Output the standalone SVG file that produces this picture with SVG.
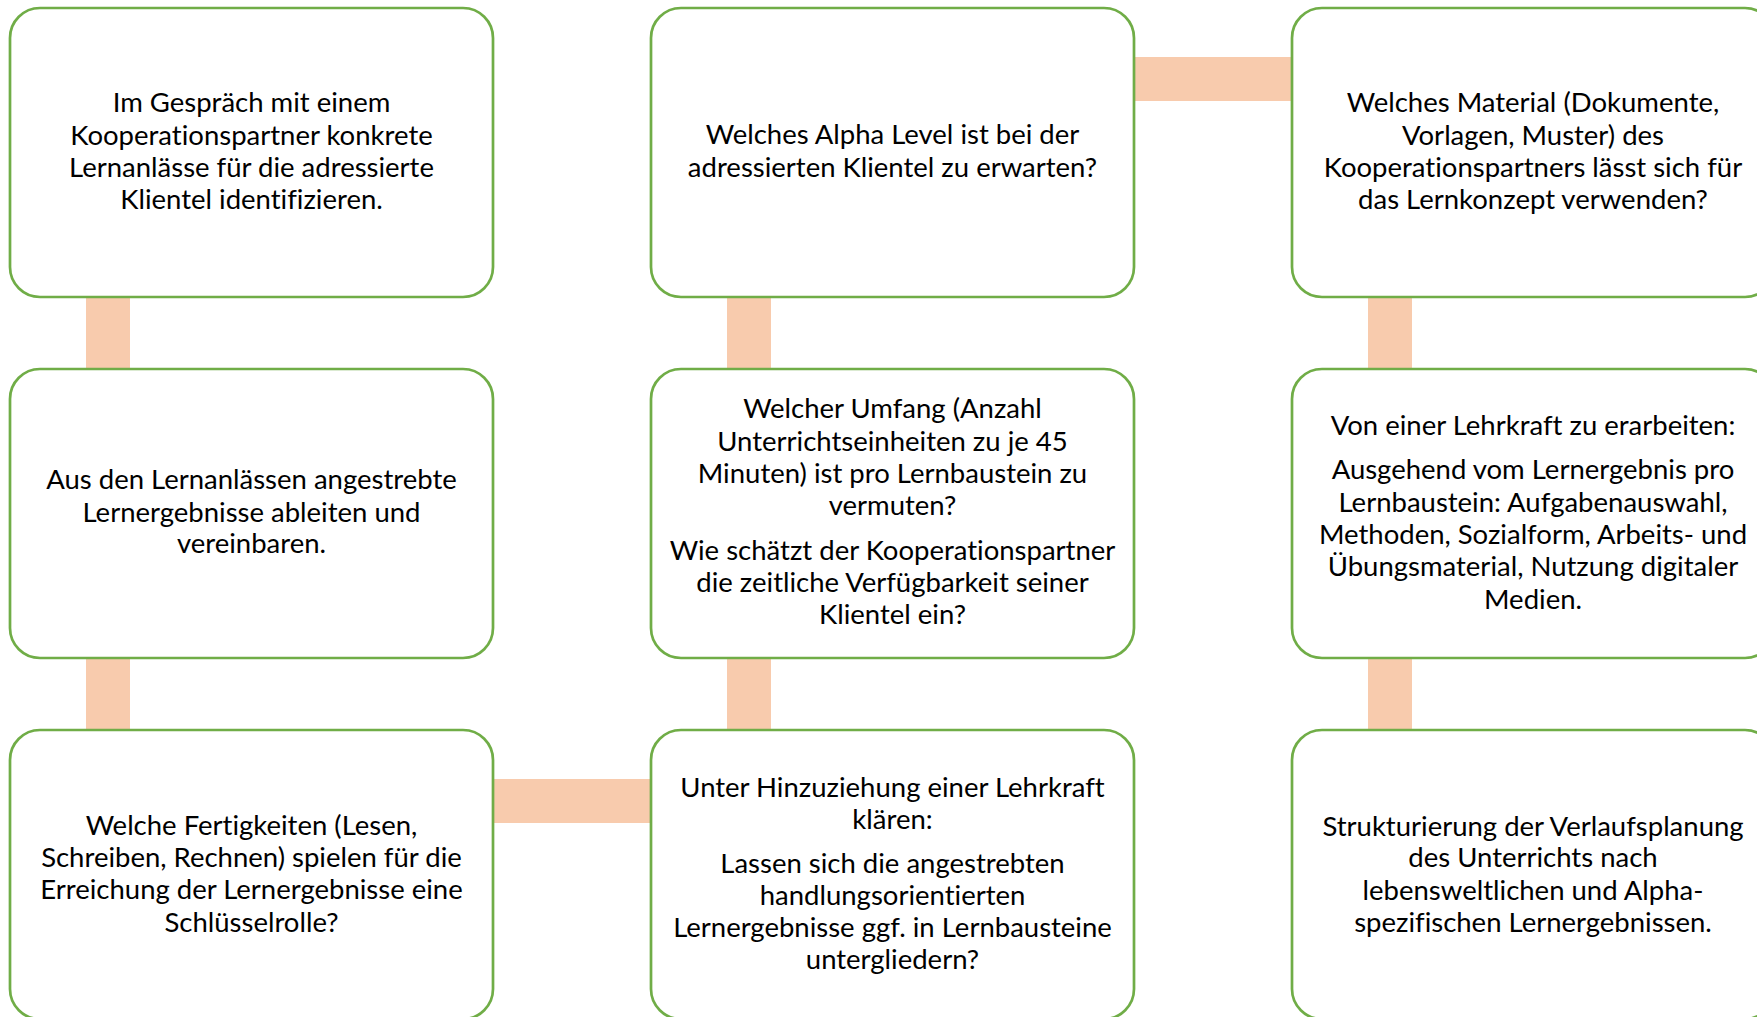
<svg xmlns="http://www.w3.org/2000/svg" width="1757" height="1017" viewBox="0 0 1757 1017">
<style>
.box{fill:#FFFFFF;stroke:#70AD47;stroke-width:2.7}
.con{stroke:#F8CBAD;stroke-width:44;fill:none}
text{font-family:Lato,"Liberation Sans",sans-serif;font-size:27.5px;fill:#000000;text-anchor:middle;font-variant-ligatures:none}
</style>
<rect width="1757" height="1017" fill="#FFFFFF"/>
<g id="connectors">
<line class="con" x1="108" y1="297" x2="108" y2="369"/>
<line class="con" x1="108" y1="658" x2="108" y2="730"/>
<line class="con" x1="749" y1="297" x2="749" y2="369"/>
<line class="con" x1="749" y1="658" x2="749" y2="730"/>
<line class="con" x1="1390" y1="297" x2="1390" y2="369"/>
<line class="con" x1="1390" y1="658" x2="1390" y2="730"/>
<line class="con" x1="1134" y1="79" x2="1292" y2="79"/>
<line class="con" x1="493" y1="801" x2="651" y2="801"/>
</g>
<g id="n1">
<rect class="box" x="10" y="8" width="483" height="289" rx="30"/>
<text x="251.5" y="112.3">Im Gespräch mit einem</text>
<text x="251.5" y="144.5">Kooperationspartner konkrete</text>
<text x="251.5" y="176.6">Lernanlässe für die adressierte</text>
<text x="251.5" y="208.7">Klientel identifizieren.</text>
</g>
<g id="n2">
<rect class="box" x="10" y="369" width="483" height="289" rx="30"/>
<text x="251.5" y="489.3">Aus den Lernanlässen angestrebte</text>
<text x="251.5" y="521.7">Lernergebnisse ableiten und</text>
<text x="251.5" y="553.3">vereinbaren.</text>
</g>
<g id="n3">
<rect class="box" x="10" y="730" width="483" height="289" rx="30"/>
<text x="251.5" y="835">Welche Fertigkeiten (Lesen,</text>
<text x="251.5" y="867">Schreiben, Rechnen) spielen für die</text>
<text x="251.5" y="899.3">Erreichung der Lernergebnisse eine</text>
<text x="251.5" y="931.7">Schlüsselrolle?</text>
</g>
<g id="n4">
<rect class="box" x="651" y="730" width="483" height="289" rx="30"/>
<text x="892.5" y="796.7">Unter Hinzuziehung einer Lehrkraft</text>
<text x="892.5" y="828.5">klären:</text>
<text x="892.5" y="873.3">Lassen sich die angestrebten</text>
<text x="892.5" y="905.3">handlungsorientierten</text>
<text x="892.5" y="937.3">Lernergebnisse ggf. in Lernbausteine</text>
<text x="892.5" y="969.3">untergliedern?</text>
</g>
<g id="n5">
<rect class="box" x="651" y="369" width="483" height="289" rx="30"/>
<text x="892.5" y="418.3">Welcher Umfang (Anzahl</text>
<text x="892.5" y="450.5">Unterrichtseinheiten zu je 45</text>
<text x="892.5" y="482.8">Minuten) ist pro Lernbaustein zu</text>
<text x="892.5" y="515">vermuten?</text>
<text x="892.5" y="560">Wie schätzt der Kooperationspartner</text>
<text x="892.5" y="592">die zeitliche Verfügbarkeit seiner</text>
<text x="892.5" y="624">Klientel ein?</text>
</g>
<g id="n6">
<rect class="box" x="651" y="8" width="483" height="289" rx="30"/>
<text x="892.5" y="144.3">Welches Alpha Level ist bei der</text>
<text x="892.5" y="176.6">adressierten Klientel zu erwarten?</text>
</g>
<g id="n7">
<rect class="box" x="1292" y="8" width="483" height="289" rx="30"/>
<text x="1533" y="112.3">Welches Material (Dokumente,</text>
<text x="1533" y="144.5">Vorlagen, Muster) des</text>
<text x="1533" y="176.6">Kooperationspartners lässt sich für</text>
<text x="1533" y="208.7">das Lernkonzept verwenden?</text>
</g>
<g id="n8">
<rect class="box" x="1292" y="369" width="483" height="289" rx="30"/>
<text x="1533" y="435">Von einer Lehrkraft zu erarbeiten:</text>
<text x="1533" y="479.3">Ausgehend vom Lernergebnis pro</text>
<text x="1533" y="511.6">Lernbaustein: Aufgabenauswahl,</text>
<text x="1533" y="543.9">Methoden, Sozialform, Arbeits- und</text>
<text x="1533" y="576.2">Übungsmaterial, Nutzung digitaler</text>
<text x="1533" y="608.5">Medien.</text>
</g>
<g id="n9">
<rect class="box" x="1292" y="730" width="483" height="289" rx="30"/>
<text x="1533" y="835.7">Strukturierung der Verlaufsplanung</text>
<text x="1533" y="867">des Unterrichts nach</text>
<text x="1533" y="899.5">lebensweltlichen und Alpha-</text>
<text x="1533" y="931.7">spezifischen Lernergebnissen.</text>
</g>
</svg>
